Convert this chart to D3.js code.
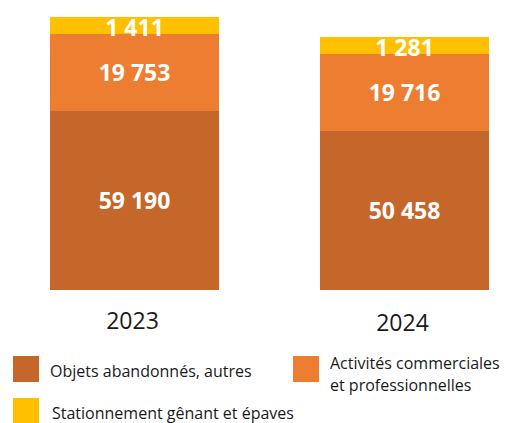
<!DOCTYPE html>
<html><head><meta charset="utf-8">
<script src="https://cdn.jsdelivr.net/npm/d3@7"></script>
<style>
html,body{margin:0;padding:0;background:#fff;}
svg{display:block;font-family:"Open Sans",sans-serif;}
</style></head>
<body><svg id="chart" width="517" height="423"></svg>
<script>
// ---- data ----
const years = ["2023", "2024"];
const seriesNames = ["Objets abandonnés, autres", "Activités commerciales et professionnelles", "Stationnement gênant et épaves"];
const objets = [59190, 50458];
const activites = [19753, 19716];
const stationnement = [1411, 1281];
const colors = ["#C5672B", "#ED7D31", "#FFC000"];

const series = [objets, activites, stationnement];
const svg = d3.select("#chart");
const fmt = d3.formatLocale({decimal: ",", thousands: " ", grouping: [3], currency: ["", " €"]}).format(",d");

const x = d3.scaleBand().domain(years).range([50, 489]).paddingInner(0.374).paddingOuter(0);
const baseY = 290;
// compressed (power) scale for segment heights, as in the original infographic
const h = d3.scalePow().exponent(0.766).domain([0, d3.max(objets)]).range([0, 179.3]);
const minSeg = 17;

years.forEach((yr, i) => {
  let top = baseY;
  series.forEach((s, k) => {
    const sh = Math.max(h(s[i]), minSeg);
    const y0 = Math.round(top - sh);
    svg.append("rect")
      .attr("x", Math.round(x(yr))).attr("y", y0)
      .attr("width", Math.round(x.bandwidth())).attr("height", top - y0)
      .attr("fill", colors[k]);
    svg.append("text")
      .attr("x", x(yr) + x.bandwidth() / 2)
      .attr("y", y0 + (top - y0) / 2 + 8.5 + (k === 2 ? 2 : 0))
      .attr("text-anchor", "middle")
      .attr("fill", "#fff").attr("font-weight", 700).attr("font-size", 23)
      .text(fmt(s[i]));
    top = y0;
  });
  svg.append("text")
    .attr("x", x(yr) + x.bandwidth() / 2 - 2)
    .attr("y", 329 + i * 2)
    .attr("text-anchor", "middle")
    .attr("fill", "#1a1a1a").attr("font-size", 23)
    .text(yr);
});

// legend
const legend = [
  {k: 0, x: 13, y: 356, lines: ["Objets abandonnés, autres"], ty: 377},
  {k: 1, x: 293, y: 356, lines: ["Activités commerciales", "et professionnelles"], ty: 369},
  {k: 2, x: 13, y: 398, lines: ["Stationnement gênant et épaves"], ty: 419}
];
legend.forEach(l => {
  svg.append("rect").attr("x", l.x).attr("y", l.y).attr("width", 26).attr("height", 26).attr("fill", colors[l.k]);
  const tx = l.x + 37 + (l.k === 2 ? 2 : 0);
  const t = svg.append("text").attr("x", tx).attr("y", l.ty)
    .attr("fill", "#1a1a1a").attr("font-size", 16);
  l.lines.forEach((line, j) => {
    t.append("tspan").attr("x", tx).attr("dy", j === 0 ? 0 : 22).text(line);
  });
});
</script></body></html>
